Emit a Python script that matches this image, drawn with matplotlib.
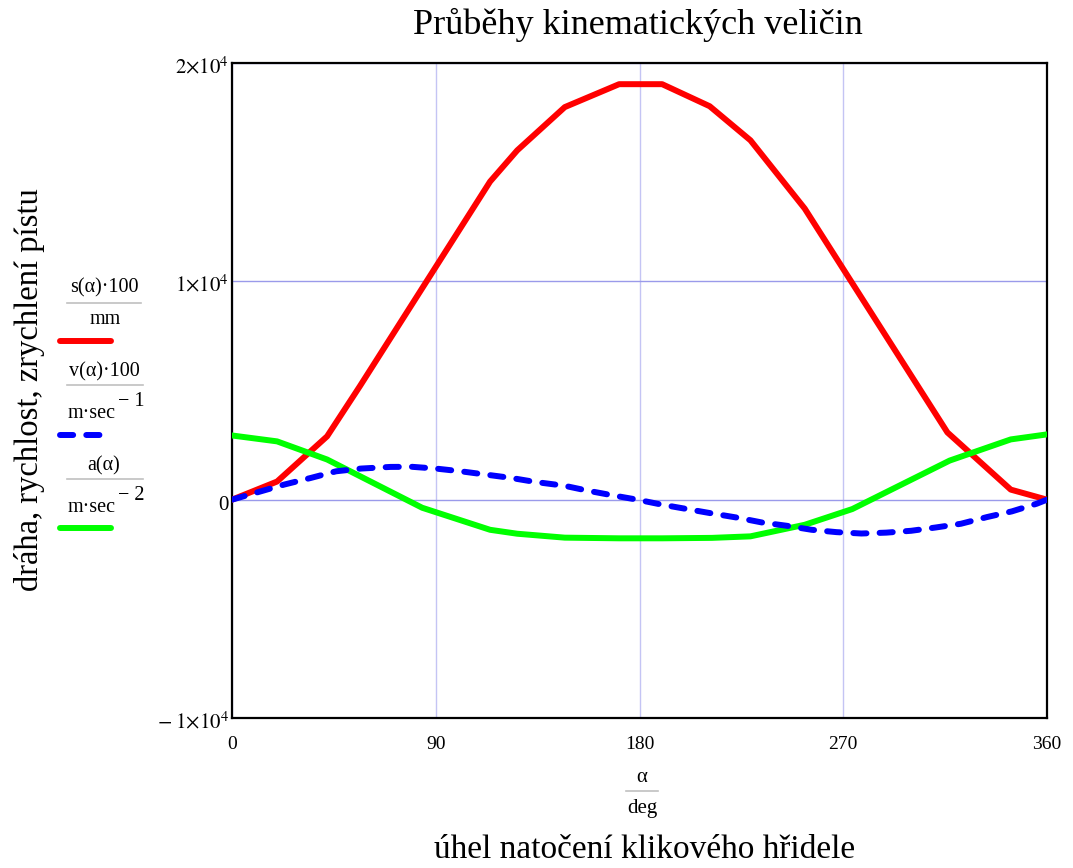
import matplotlib
matplotlib.use("Agg")
import matplotlib.pyplot as plt
from matplotlib.lines import Line2D
from matplotlib.transforms import blended_transform_factory, ScaledTranslation

plt.rcParams['font.family'] = ['Liberation Serif', 'DejaVu Serif']
plt.rcParams['mathtext.fontset'] = 'stix'

# values (alpha in deg)
sDeg = [0, 19.9, 42, 56.5, 114, 126, 147, 171, 190, 211, 229, 253, 316, 344, 360]
sVal = [0, 830, 2900, 5200, 14570, 16000, 17980, 19030, 19030, 18020, 16460, 13330, 3080, 460, 0]

vDeg = [0, 23, 35, 46, 57, 70, 79.5, 90, 101, 123, 134, 146.7, 157, 168, 179, 190, 201,
        212, 223, 234, 245, 256, 267, 278, 289, 300, 311, 322, 333.5, 344.5, 355.5, 360]
vVal = [0, 690, 1000, 1300, 1425, 1500, 1505, 1425, 1300, 1000, 810, 640, 414, 200, 0, -230, -430,
        -630, -820, -1043, -1195, -1379, -1487, -1550, -1510, -1425, -1272, -1103, -797, -536, -184, 0]

aDeg = [0, 19.9, 42, 84, 114, 126, 147, 171, 190, 212, 229, 253, 274, 317, 344, 360]
aVal = [2940, 2670, 1840, -370, -1380, -1560, -1740, -1770, -1770, -1750, -1680, -1150, -430, 1790, 2760, 2990]

xTicks = [0, 90, 180, 270, 360]
xTickLabels = ['0', '90', '180', '270', '360']
yTicks = [-1e4, 0, 1e4, 2e4]
yTickLabels = [r'$-\;1{\times}10^{4}$', '0', r'$1{\times}10^{4}$', r'$2{\times}10^{4}$']

W, H = 1073, 868
fig = plt.figure(figsize=(W / 100, H / 100), dpi=100)
ax = fig.add_axes([232 / W, 1 - 718 / H, 815 / W, 655 / H])

def pos(x, y):
    # pixel position -> figure fraction
    return x / W, 1 - y / H

lw = 4.3
ax.plot(sDeg, sVal, color='#ff0000', lw=lw, zorder=3)
ax.plot(vDeg, vVal, color='#0000ff', lw=lw, linestyle=(0, (2.2, 2.2)),
        dash_capstyle='round', zorder=4)
ax.plot(aDeg, aVal, color='#00ff00', lw=lw, zorder=3)

ax.set_xlim(0, 360)
ax.set_ylim(-1e4, 2e4)
ax.set_xticks(xTicks)
ax.set_xticklabels(xTickLabels)
ax.set_yticks(yTicks)
ax.set_yticklabels([])
ax.tick_params(length=0)
ax.tick_params(axis='x', pad=13, labelsize=14)

# y labels sit a bit below their grid line, like in the original
yTrans = blended_transform_factory(ax.transAxes, ax.transData) + \
    ScaledTranslation(-0.03, -0.105, fig.dpi_scale_trans)
for val, lab in zip(yTicks, yTickLabels):
    ax.text(0, val, lab, transform=yTrans, ha='right', va='baseline', fontsize=15, clip_on=False)

ax.set_axisbelow(True)
ax.xaxis.grid(True, color='#c4c4f4', lw=1)
ax.yaxis.grid(True, color='#9a9aea', lw=1)
for sp in ax.spines.values():
    sp.set_color('black')
    sp.set_linewidth(1.6)

# titles
fig.text(*pos(638, 25), 'Průběhy kinematických veličin', fontsize=26, ha='center', va='center')
fig.text(*pos(645, 850), 'úhel natočení klikového hřidele', fontsize=24, ha='center', va='center')
fig.text(*pos(30, 390), 'dráha, rychlost, zrychlení pístu', fontsize=23.5, ha='center', va='center',
         rotation=90)

# x label as fraction
fig.text(*pos(642, 778), 'α', fontsize=15, ha='center', va='center')
fig.add_artist(Line2D([626 / W, 658 / W], [1 - 791 / H] * 2, color='#c0c0c0', lw=1.2))
fig.text(*pos(642, 808), 'deg', fontsize=15, ha='center', va='center')

# legend on the left
legSize = 14.5
fig.text(*pos(104, 288), 's(α)\u00b7100', fontsize=legSize, ha='center', va='center')
fig.add_artist(Line2D([67 / W, 141 / W], [1 - 303 / H] * 2, color='#c0c0c0', lw=1.2))
fig.text(*pos(105, 319), 'mm', fontsize=legSize, ha='center', va='center')
fig.add_artist(Line2D([60 / W, 111 / W], [1 - 341 / H] * 2, color='#ff0000', lw=lw,
                      solid_capstyle='round'))

fig.text(*pos(104, 372), 'v(α)\u00b7100', fontsize=legSize, ha='center', va='center')
fig.add_artist(Line2D([67 / W, 143 / W], [1 - 385 / H] * 2, color='#c0c0c0', lw=1.2))
fig.text(*pos(68, 413), 'm\u00b7sec', fontsize=legSize, ha='left', va='center')
fig.text(*pos(118, 401), '\u2212 1', fontsize=legSize, ha='left', va='center')
fig.add_artist(Line2D([60 / W, 101 / W], [1 - 435 / H] * 2, color='#0000ff', lw=lw,
                      linestyle=(0, (2.2, 2.2)), dash_capstyle='round'))

fig.text(*pos(104, 466), 'a(α)', fontsize=legSize, ha='center', va='center')
fig.add_artist(Line2D([67 / W, 143 / W], [1 - 479 / H] * 2, color='#c0c0c0', lw=1.2))
fig.text(*pos(68, 507), 'm\u00b7sec', fontsize=legSize, ha='left', va='center')
fig.text(*pos(118, 495), '\u2212 2', fontsize=legSize, ha='left', va='center')
fig.add_artist(Line2D([60 / W, 111 / W], [1 - 528 / H] * 2, color='#00ff00', lw=lw,
                      solid_capstyle='round'))

fig.savefig('out.png', dpi=100)
